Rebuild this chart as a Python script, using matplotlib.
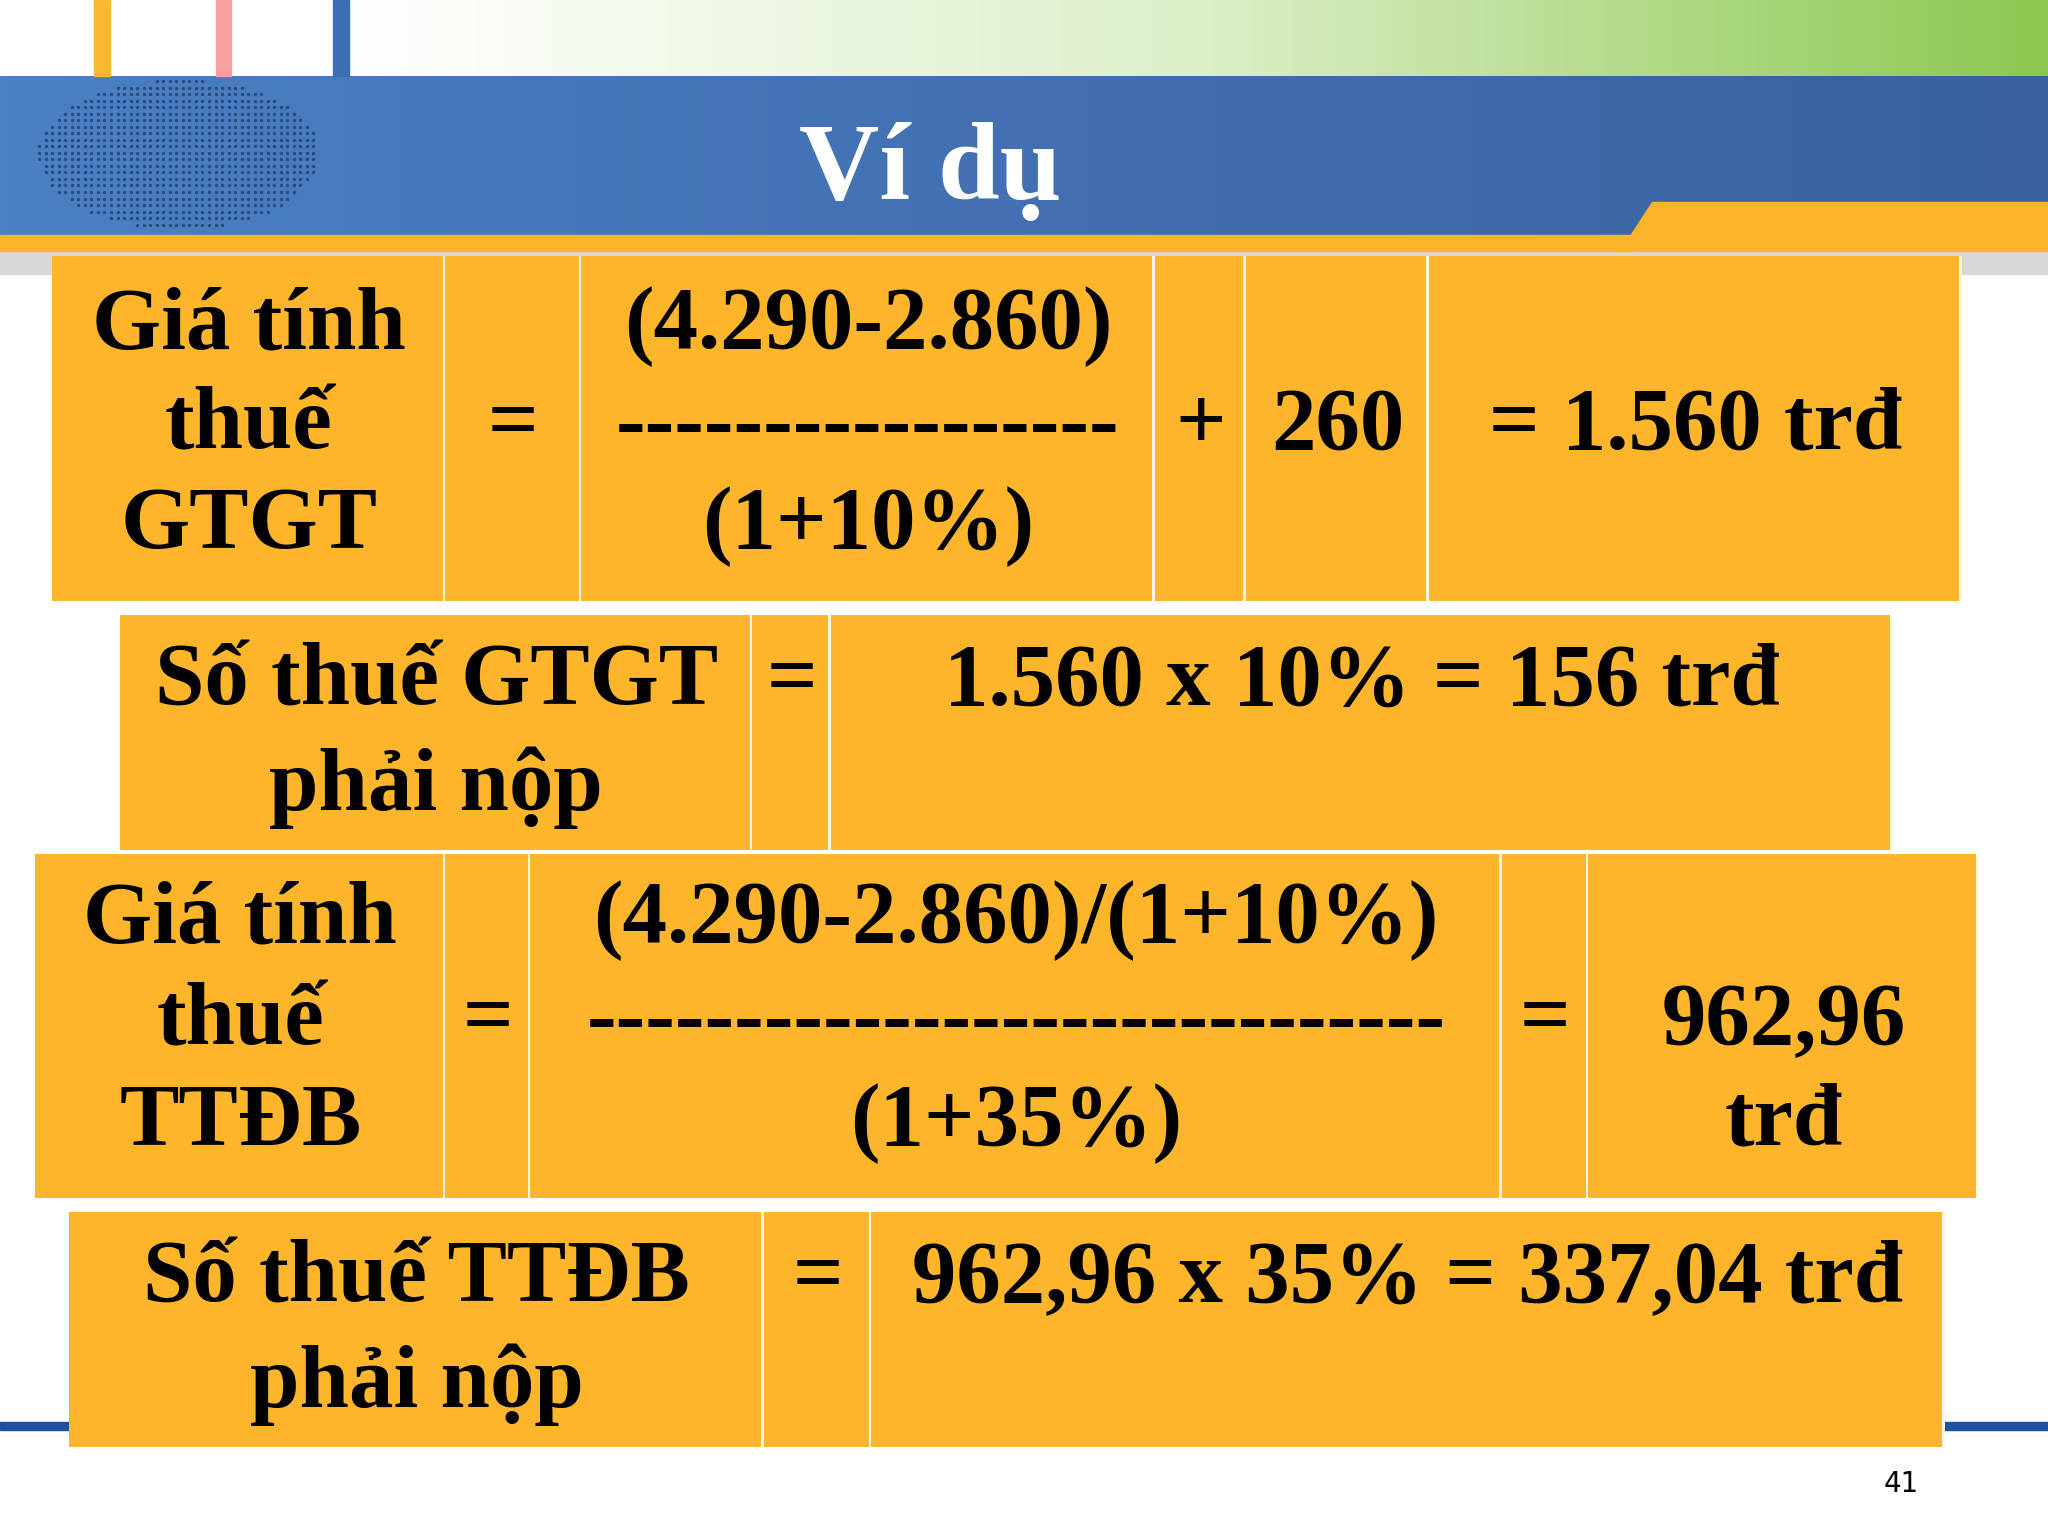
import matplotlib
matplotlib.use("Agg")
import matplotlib.pyplot as plt
import numpy as np
from matplotlib.patches import Rectangle, Polygon
from matplotlib.colors import LinearSegmentedColormap

title = "Ví dụ"
page = "41"
t1_cols = [40, 341, 445, 884, 954, 1094, 1502]
t1_txt = [(0, 245, "Giá tính"), (0, 322, "thuế"), (0, 398, "GTGT"), (1, 322, "="),
          (2, 245, "(4.290-2.860)"), (2, 322, "-----------------"), (2, 398, "(1+10%)"),
          (3, 322, "+"), (4, 322, "260"), (5, 322, "= 1.560 trđ")]
t2_cols = [92, 576, 636, 1449]
t2_txt = [(0, 518, "Số thuế GTGT"), (0, 598, "phải nộp"), (1, 518, "="), (2, 518, "1.560 x 10% = 156 trđ")]
t3_cols = [27, 341, 406, 1150, 1216, 1515]
t3_txt = [(0, 700, "Giá tính"), (0, 778, "thuế"), (0, 855, "TTĐB"), (1, 778, "="),
          (2, 700, "(4.290-2.860)/(1+10%)"), (2, 778, "-----------------------------"), (2, 855, "(1+35%)"),
          (3, 778, "="), (4, 778, "962,96"), (4, 855, "trđ")]
t4_cols = [53, 585, 667, 1489]
t4_txt = [(0, 975, "Số thuế TTĐB"), (0, 1055, "phải nộp"), (1, 975, "="), (2, 975, "962,96 x 35% = 337,04 trđ")]
tables = [(196, 460, t1_cols, t1_txt), (471, 651, t2_cols, t2_txt),
          (654, 917, t3_cols, t3_txt), (928, 1108, t4_cols, t4_txt)]

W, H = 1568, 1176
fig = plt.figure(figsize=(20.48, 15.36), dpi=100)
ax = fig.add_axes([0, 0, 1, 1])
ax.set_xlim(0, W); ax.set_ylim(H, 0); ax.axis("off")

grad = np.linspace(0, 1, 256)[None, :]
cm = LinearSegmentedColormap.from_list("g", ["#ffffff", "#dcefc8", "#8cc850"])
ax.imshow(grad, cmap=cm, extent=[268, W, 58, 0], aspect="auto", zorder=0)
for x0, c in [(72, "#f8b830"), (165, "#f4a0a0"), (255, "#3d6fb5")]:
    ax.add_patch(Rectangle((x0, 0), 12, 58, color=c, zorder=1))
cm2 = LinearSegmentedColormap.from_list("b", ["#4a80c4", "#3a60a0"])
ax.imshow(grad, cmap=cm2, extent=[0, W, 182, 58], aspect="auto", zorder=0)
ax.add_patch(Polygon([[1265, 155], [W, 155], [W, 192], [1240, 192]], color="#fbb42a", zorder=1))
ax.add_patch(Rectangle((0, 180), 1250, 12, color="#fbb42a", zorder=1))
ax.add_patch(Rectangle((0, 192), W, 18, color="#d8d8d8", zorder=0.5))
xs, ys = np.meshgrid(np.arange(30, 246, 5), np.arange(62, 176, 5))
m = ((xs - 137) / 108) ** 2 + ((ys - 118) / 57) ** 2 <= 1
ax.scatter(xs[m], ys[m], s=2, color="#2a4a80", zorder=2)
ax.text(712, 132, title, color="white", fontsize=80, fontweight="bold",
        family="Liberation Serif", ha="center", va="center", zorder=3)

ax.add_patch(Rectangle((0, 1089), W, 6, color="#1f4fa0", zorder=1))

for y0, y1, cols, txt in tables:
    ax.add_patch(Rectangle((cols[0], y0), cols[-1] - cols[0], y1 - y0,
                           facecolor="#fff6e0", edgecolor="none", zorder=1.5))
    for i in range(len(cols) - 1):
        ax.add_patch(Rectangle((cols[i], y0), cols[i + 1] - cols[i] - 2, y1 - y0,
                               facecolor="#fdb52b", edgecolor="none", zorder=2))
    for c, y, s in txt:
        xc = (cols[c] + cols[c + 1]) / 2
        ax.text(xc, y + 5, s, fontsize=64, fontweight="bold", family="Liberation Serif",
                ha="center", va="center", color="black", zorder=3)

ax.text(1456, 1136, page, fontsize=20, family="DejaVu Sans", ha="center", va="center")
fig.savefig("out.png", dpi=100)
